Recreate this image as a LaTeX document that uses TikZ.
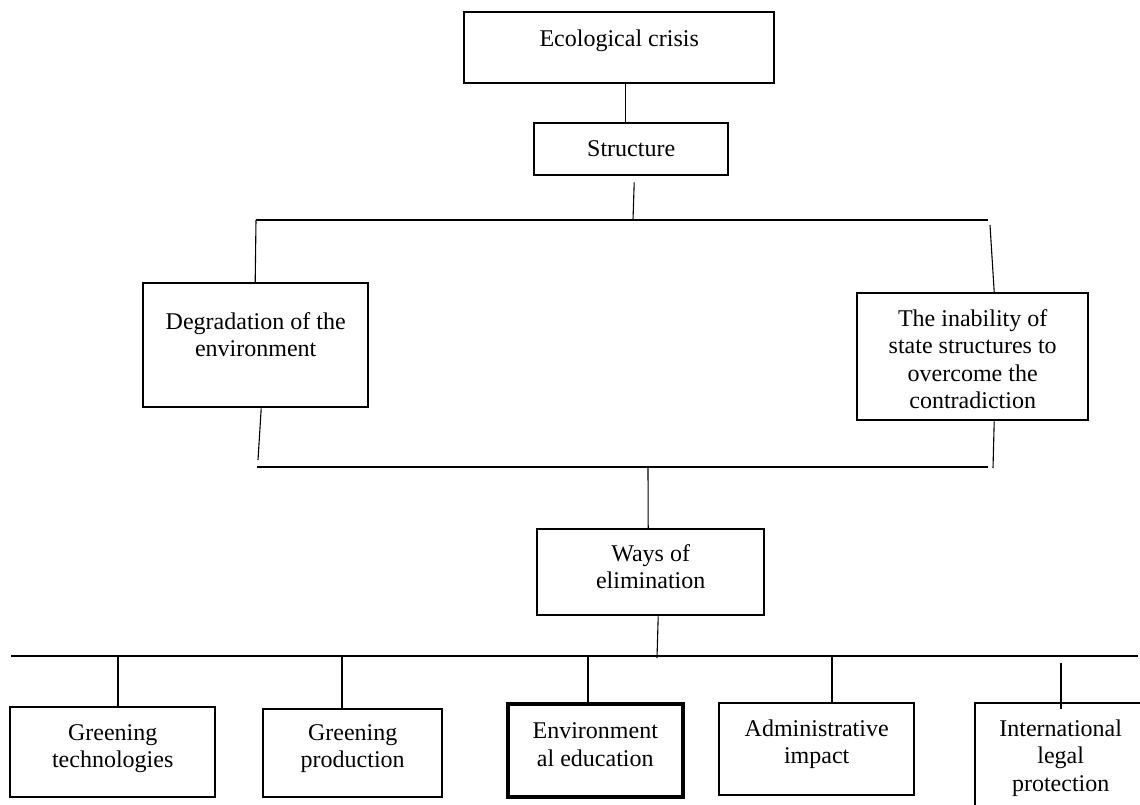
\documentclass[tikz,border=0pt]{standalone}
\usepackage{fontspec}
\setmainfont{Liberation Serif}
% box text: width, height, first baseline, text
\newcommand{\boxtext}[4]{\parbox[t][#2pt][t]{#1pt}{\centering\rule{0pt}{#3pt}#4\par}}

\begin{document}
\begin{tikzpicture}[x=1pt,y=-1pt,line width=1.1pt,
  box/.style={draw,line width=2.4pt,inner sep=0pt,anchor=north west,font=\fontsize{24}{27.5}\selectfont}]
\useasboundingbox (0,0) rectangle (1140,804);

  % boxes
  \node[box] (eco) at (463,11) {\boxtext{310}{71}{34}{Ecological crisis}};
  \node[box] (struct) at (533,122) {\boxtext{194}{52}{33}{Structure}};
  \node[box] (degr) at (142,282) {\boxtext{225}{124}{46}{Degradation of the\\environment}};
  \node[box] (inab) at (856,292) {\boxtext{231}{127}{33}{The inability of\\state structures to\\overcome the\\contradiction}};
  \node[box] (ways) at (536,528) {\boxtext{227}{86}{32}{Ways of\\elimination}};
  \node[box] (gt) at (9,706) {\boxtext{205}{90}{33}{Greening\\technologies}};
  \node[box] (gp) at (262,708) {\boxtext{179}{88}{31}{Greening\\production}};
  \node[box,line width=3.6pt] (ee) at (506,702) {\boxtext{175}{93}{35}{Environment\\al education}};
  \node[box] (ai) at (718,702) {\boxtext{195}{92}{33}{Administrative\\impact}};
  \node[box] (il) at (974,702) {\boxtext{171}{120}{33}{International\\legal\\protection}};

  % bus ends
  \coordinate (busL) at (256,220);
  \coordinate (busM) at (633,220);
  \coordinate (busR) at (988,220);
  \coordinate (rtop) at (990,225);
  \coordinate (dlow) at (258,460);
  \coordinate (ilow) at (993,468);
  \coordinate (lowL) at (257,467);
  \coordinate (lowM) at (648,468);
  \coordinate (lowR) at (988,467);
  \coordinate (botL) at (11,656);
  \coordinate (botM) at (657,658);
  \coordinate (botR) at (1138,656);
  \coordinate (til) at (1061,663);

  \draw ([xshift=6pt]eco.south) -- ([xshift=-6pt]struct.north);
  \draw ([shift={(3,6)}]struct.south) -- (busM);
  \draw (busL) -- (busR);
  \draw (busL) -- ([xshift=-0.5pt]degr.north);
  \draw (rtop) -- ([xshift=21.5pt]inab.north);

  \draw ([xshift=5.5pt]degr.south) -- (dlow);
  \draw ([xshift=21.5pt]inab.south) -- (ilow);
  \draw (lowL) -- (lowR);
  \draw (lowM) -- ([xshift=-2.5pt]ways.north);

  \draw ([xshift=7.5pt]ways.south) -- (botM);
  \draw[line width=1.4pt] (botL) -- (botR);
  \foreach \n/\x in {gt/118,gp/342,ee/588,ai/832}{
    \coordinate (t\n) at (\x,657);
    \draw (t\n) -- (\n.north -| t\n);
  }
  \draw (til) -- ([yshift=-7pt]il.north -| til);

\end{tikzpicture}
\end{document}
